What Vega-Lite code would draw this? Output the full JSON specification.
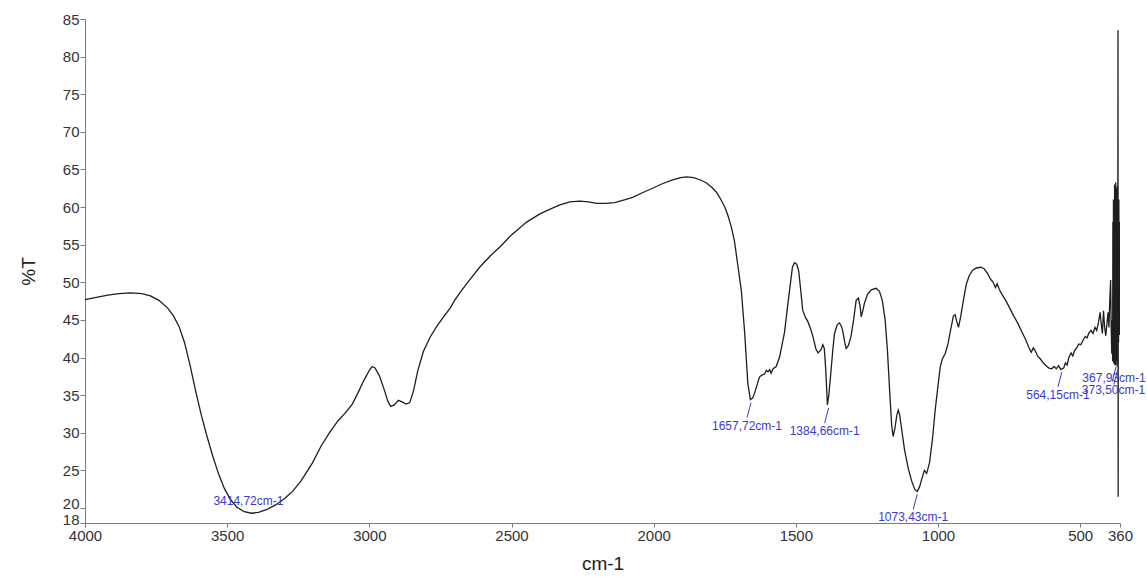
{
  "$schema": "https://vega.github.io/schema/vega-lite/v6.json",
  "autosize": {"type": "none"},
  "padding": {"left": 85, "top": 19, "right": 27, "bottom": 55},
  "width": 1035,
  "height": 504,
  "background": "#ffffff",
  "config": {
    "view": {"stroke": null},
    "font": "Liberation Sans",
    "axis": {
      "grid": false,
      "labelOverlap": false,
      "domainColor": "#7a7a7a",
      "tickColor": "#7a7a7a",
      "labelColor": "#333333",
      "labelFont": "Liberation Sans",
      "labelFontSize": 15,
      "titleFont": "Liberation Sans",
      "titleFontWeight": "normal",
      "titleColor": "#222222",
      "titleFontSize": 19
    }
  },
  "datasets": {
    "spectrum": [
      {"wn": 4000, "T": 47.7}, {"wn": 3960, "T": 48.0}, {"wn": 3920, "T": 48.3}, {"wn": 3880, "T": 48.5},
      {"wn": 3840, "T": 48.6}, {"wn": 3800, "T": 48.5}, {"wn": 3770, "T": 48.2}, {"wn": 3740, "T": 47.6},
      {"wn": 3710, "T": 46.6}, {"wn": 3690, "T": 45.6}, {"wn": 3670, "T": 44.2}, {"wn": 3650, "T": 42.0},
      {"wn": 3630, "T": 38.9}, {"wn": 3610, "T": 35.4}, {"wn": 3590, "T": 32.2}, {"wn": 3570, "T": 29.4},
      {"wn": 3550, "T": 26.8}, {"wn": 3530, "T": 24.5}, {"wn": 3510, "T": 22.6}, {"wn": 3490, "T": 21.2},
      {"wn": 3466, "T": 20.1}, {"wn": 3440, "T": 19.5}, {"wn": 3414, "T": 19.3}, {"wn": 3390, "T": 19.4},
      {"wn": 3360, "T": 19.8}, {"wn": 3330, "T": 20.4}, {"wn": 3300, "T": 21.2}, {"wn": 3270, "T": 22.2},
      {"wn": 3240, "T": 23.6}, {"wn": 3200, "T": 26.0}, {"wn": 3170, "T": 28.2}, {"wn": 3140, "T": 30.0},
      {"wn": 3110, "T": 31.6}, {"wn": 3085, "T": 32.6}, {"wn": 3060, "T": 33.8}, {"wn": 3040, "T": 35.3},
      {"wn": 3020, "T": 36.9}, {"wn": 3000, "T": 38.3}, {"wn": 2990, "T": 38.8}, {"wn": 2980, "T": 38.6},
      {"wn": 2965, "T": 37.6}, {"wn": 2950, "T": 36.0}, {"wn": 2935, "T": 34.2}, {"wn": 2925, "T": 33.5},
      {"wn": 2912, "T": 33.7}, {"wn": 2898, "T": 34.3}, {"wn": 2885, "T": 34.1}, {"wn": 2870, "T": 33.8},
      {"wn": 2858, "T": 34.0}, {"wn": 2845, "T": 35.5}, {"wn": 2830, "T": 38.2}, {"wn": 2810, "T": 40.8},
      {"wn": 2785, "T": 42.8}, {"wn": 2760, "T": 44.3}, {"wn": 2735, "T": 45.6}, {"wn": 2715, "T": 46.6},
      {"wn": 2700, "T": 47.6}, {"wn": 2680, "T": 48.7}, {"wn": 2650, "T": 50.2}, {"wn": 2612, "T": 52.0},
      {"wn": 2575, "T": 53.5}, {"wn": 2541, "T": 54.7}, {"wn": 2500, "T": 56.3}, {"wn": 2447, "T": 58.0},
      {"wn": 2400, "T": 59.1}, {"wn": 2366, "T": 59.7}, {"wn": 2330, "T": 60.3}, {"wn": 2295, "T": 60.7},
      {"wn": 2260, "T": 60.8}, {"wn": 2230, "T": 60.7}, {"wn": 2200, "T": 60.5}, {"wn": 2170, "T": 60.5},
      {"wn": 2137, "T": 60.6}, {"wn": 2100, "T": 61.0}, {"wn": 2074, "T": 61.3}, {"wn": 2040, "T": 61.9},
      {"wn": 2004, "T": 62.5}, {"wn": 1970, "T": 63.1}, {"wn": 1933, "T": 63.6}, {"wn": 1905, "T": 63.9},
      {"wn": 1884, "T": 64.0}, {"wn": 1860, "T": 63.9}, {"wn": 1835, "T": 63.6}, {"wn": 1814, "T": 63.2},
      {"wn": 1795, "T": 62.6}, {"wn": 1780, "T": 62.0}, {"wn": 1768, "T": 61.3}, {"wn": 1750, "T": 60.0},
      {"wn": 1740, "T": 59.0}, {"wn": 1728, "T": 57.5}, {"wn": 1716, "T": 55.5}, {"wn": 1705, "T": 52.5},
      {"wn": 1692, "T": 49.0}, {"wn": 1680, "T": 43.3}, {"wn": 1669, "T": 36.6}, {"wn": 1660, "T": 34.4},
      {"wn": 1652, "T": 34.6}, {"wn": 1645, "T": 35.3}, {"wn": 1628, "T": 37.4}, {"wn": 1618, "T": 37.7},
      {"wn": 1610, "T": 37.8}, {"wn": 1604, "T": 38.3}, {"wn": 1598, "T": 38.1}, {"wn": 1592, "T": 38.4},
      {"wn": 1587, "T": 37.9}, {"wn": 1580, "T": 38.5}, {"wn": 1569, "T": 38.8}, {"wn": 1557, "T": 40.1},
      {"wn": 1540, "T": 43.3}, {"wn": 1530, "T": 46.5}, {"wn": 1522, "T": 49.0}, {"wn": 1512, "T": 52.0},
      {"wn": 1505, "T": 52.6}, {"wn": 1497, "T": 52.4}, {"wn": 1490, "T": 51.5}, {"wn": 1483, "T": 49.0},
      {"wn": 1476, "T": 46.3}, {"wn": 1466, "T": 45.3}, {"wn": 1458, "T": 44.8}, {"wn": 1448, "T": 43.8},
      {"wn": 1440, "T": 42.8}, {"wn": 1430, "T": 41.2}, {"wn": 1422, "T": 40.6}, {"wn": 1412, "T": 41.0},
      {"wn": 1405, "T": 41.7}, {"wn": 1400, "T": 41.2}, {"wn": 1395, "T": 38.5}, {"wn": 1389, "T": 33.7},
      {"wn": 1384, "T": 35.0}, {"wn": 1378, "T": 37.5}, {"wn": 1370, "T": 41.0}, {"wn": 1364, "T": 43.2},
      {"wn": 1355, "T": 44.3}, {"wn": 1347, "T": 44.6}, {"wn": 1340, "T": 44.2}, {"wn": 1335, "T": 43.5},
      {"wn": 1328, "T": 42.0}, {"wn": 1323, "T": 41.2}, {"wn": 1315, "T": 41.6}, {"wn": 1306, "T": 42.8},
      {"wn": 1297, "T": 45.0}, {"wn": 1288, "T": 47.6}, {"wn": 1280, "T": 47.9}, {"wn": 1274, "T": 46.8},
      {"wn": 1270, "T": 45.4}, {"wn": 1264, "T": 46.3}, {"wn": 1259, "T": 47.2}, {"wn": 1248, "T": 48.4},
      {"wn": 1235, "T": 49.0}, {"wn": 1218, "T": 49.2}, {"wn": 1206, "T": 48.8}, {"wn": 1196, "T": 47.6},
      {"wn": 1186, "T": 45.0}, {"wn": 1178, "T": 41.0}, {"wn": 1170, "T": 35.5}, {"wn": 1163, "T": 31.0},
      {"wn": 1158, "T": 29.5}, {"wn": 1152, "T": 30.5}, {"wn": 1145, "T": 32.3}, {"wn": 1140, "T": 33.0},
      {"wn": 1135, "T": 32.4}, {"wn": 1128, "T": 30.5}, {"wn": 1118, "T": 27.8}, {"wn": 1105, "T": 25.3},
      {"wn": 1092, "T": 23.5}, {"wn": 1082, "T": 22.5}, {"wn": 1073, "T": 22.2}, {"wn": 1065, "T": 22.8},
      {"wn": 1056, "T": 24.0}, {"wn": 1048, "T": 25.0}, {"wn": 1040, "T": 24.6}, {"wn": 1030, "T": 26.0},
      {"wn": 1020, "T": 29.0}, {"wn": 1010, "T": 33.0}, {"wn": 1000, "T": 36.3}, {"wn": 992, "T": 38.8},
      {"wn": 985, "T": 39.8}, {"wn": 975, "T": 40.5}, {"wn": 965, "T": 41.8}, {"wn": 955, "T": 43.8},
      {"wn": 946, "T": 45.5}, {"wn": 940, "T": 45.7}, {"wn": 934, "T": 44.8}, {"wn": 928, "T": 44.0},
      {"wn": 920, "T": 45.5}, {"wn": 910, "T": 47.8}, {"wn": 900, "T": 49.8}, {"wn": 890, "T": 50.9},
      {"wn": 878, "T": 51.6}, {"wn": 865, "T": 51.9}, {"wn": 850, "T": 52.0}, {"wn": 838, "T": 51.8},
      {"wn": 826, "T": 51.2}, {"wn": 815, "T": 50.4}, {"wn": 806, "T": 50.0}, {"wn": 798, "T": 49.3},
      {"wn": 792, "T": 49.8}, {"wn": 784, "T": 49.0}, {"wn": 775, "T": 48.4}, {"wn": 762, "T": 47.6},
      {"wn": 748, "T": 46.6}, {"wn": 735, "T": 45.6}, {"wn": 720, "T": 44.6}, {"wn": 705, "T": 43.4},
      {"wn": 692, "T": 42.4}, {"wn": 680, "T": 41.3}, {"wn": 672, "T": 40.7}, {"wn": 665, "T": 41.3},
      {"wn": 658, "T": 40.9}, {"wn": 650, "T": 40.2}, {"wn": 640, "T": 39.8}, {"wn": 630, "T": 39.3},
      {"wn": 620, "T": 38.9}, {"wn": 610, "T": 38.6}, {"wn": 600, "T": 38.5}, {"wn": 592, "T": 38.8},
      {"wn": 584, "T": 38.5}, {"wn": 576, "T": 38.9}, {"wn": 568, "T": 38.4}, {"wn": 564, "T": 38.5},
      {"wn": 558, "T": 38.6}, {"wn": 552, "T": 39.3}, {"wn": 546, "T": 39.0}, {"wn": 540, "T": 40.0},
      {"wn": 532, "T": 40.6}, {"wn": 526, "T": 40.2}, {"wn": 520, "T": 40.9}, {"wn": 512, "T": 41.3},
      {"wn": 505, "T": 41.8}, {"wn": 498, "T": 41.7}, {"wn": 490, "T": 42.3}, {"wn": 482, "T": 42.8},
      {"wn": 476, "T": 42.6}, {"wn": 470, "T": 43.2}, {"wn": 462, "T": 43.6}, {"wn": 455, "T": 43.2},
      {"wn": 448, "T": 44.0}, {"wn": 442, "T": 43.6}, {"wn": 436, "T": 44.6}, {"wn": 430, "T": 46.0},
      {"wn": 426, "T": 44.5}, {"wn": 422, "T": 43.2}, {"wn": 418, "T": 46.2}, {"wn": 414, "T": 44.0},
      {"wn": 410, "T": 42.9}, {"wn": 406, "T": 44.5}, {"wn": 402, "T": 46.0}, {"wn": 399, "T": 44.0},
      {"wn": 396, "T": 47.5}, {"wn": 393, "T": 50.3}, {"wn": 391, "T": 44.0}, {"wn": 389, "T": 40.5},
      {"wn": 387, "T": 45.0}, {"wn": 386, "T": 39.5}, {"wn": 385, "T": 58.0}, {"wn": 384, "T": 40.2},
      {"wn": 383, "T": 61.0}, {"wn": 382, "T": 39.2}, {"wn": 381, "T": 60.5}, {"wn": 380, "T": 40.0},
      {"wn": 379, "T": 63.0}, {"wn": 378, "T": 39.0}, {"wn": 377, "T": 61.8}, {"wn": 376, "T": 40.4},
      {"wn": 375, "T": 63.3}, {"wn": 374, "T": 38.9}, {"wn": 373.5, "T": 39.2}, {"wn": 373, "T": 62.5},
      {"wn": 372, "T": 39.6}, {"wn": 371, "T": 60.2}, {"wn": 370, "T": 40.1}, {"wn": 369, "T": 62.8},
      {"wn": 368, "T": 38.8}, {"wn": 367, "T": 83.5}, {"wn": 366.5, "T": 21.5}, {"wn": 366, "T": 60.0},
      {"wn": 365, "T": 42.0}, {"wn": 364, "T": 61.0}, {"wn": 363, "T": 45.0}, {"wn": 362, "T": 58.0},
      {"wn": 361, "T": 43.0}, {"wn": 360, "T": 50.0}
    ],
    "peaks": [
      {"wn": 3414.72, "T": 19.3, "label": "3414,72cm-1", "place": "above"},
      {"wn": 1657.72, "T": 34.4, "label": "1657,72cm-1", "place": "below"},
      {"wn": 1384.66, "T": 33.7, "label": "1384,66cm-1", "place": "below"},
      {"wn": 1073.43, "T": 22.2, "label": "1073,43cm-1", "place": "below"},
      {"wn": 564.15, "T": 38.5, "label": "564,15cm-1", "place": "below"},
      {"wn": 367.93, "T": 38.8, "label": "367,93cm-1", "place": "edge-upper"},
      {"wn": 373.5, "T": 39.2, "label": "373,50cm-1", "place": "edge-lower"}
    ]
  },
  "encoding": {
    "x": {
      "field": "wn", "type": "quantitative",
      "scale": {"domain": [4000, 360], "nice": false, "zero": false},
      "axis": {
        "title": "cm-1", "format": "d", "values": [4000, 3500, 3000, 2500, 2000, 1500, 1000, 500, 360],
        "tickSize": 4, "labelPadding": 1, "titlePadding": 11, "labelFlush": false
      }
    },
    "y": {
      "field": "T", "type": "quantitative",
      "scale": {"domain": [18, 85], "nice": false, "zero": false},
      "axis": {
        "title": "%T", "format": "d", "values": [18, 20, 25, 30, 35, 40, 45, 50, 55, 60, 65, 70, 75, 80, 85],
        "tickSize": 5, "labelPadding": 1, "titlePadding": 24, "labelFlush": false,
        "labelOffset": {"condition": {"test": "datum.value <= 20", "value": -4}, "value": 0}
      }
    }
  },
  "layer": [
    {
      "data": {"name": "spectrum"},
      "mark": {"type": "line", "color": "#1e1e1e", "strokeWidth": 1.3, "clip": true, "interpolate": "linear"}
    },
    {
      "data": {"name": "peaks"},
      "transform": [{"filter": "datum.place !== 'above'"}],
      "mark": {"type": "rule", "color": "#3a3ad0", "strokeWidth": 1, "yOffset": 3, "y2Offset": 18, "x2Offset": -4},
      "encoding": {"x2": {"field": "wn"}, "y2": {"field": "T"}}
    },
    {
      "data": {"name": "peaks"},
      "transform": [{"filter": "datum.place === 'below'"}],
      "mark": {"type": "text", "color": "#3a3ad0", "fontSize": 12, "align": "center", "baseline": "top", "dx": -4, "dy": 21},
      "encoding": {"text": {"field": "label"}}
    },
    {
      "data": {"name": "peaks"},
      "transform": [{"filter": "datum.place === 'above'"}],
      "mark": {"type": "text", "color": "#3a3ad0", "fontSize": 12, "align": "center", "baseline": "middle", "dx": -3, "dy": -12},
      "encoding": {"text": {"field": "label"}}
    },
    {
      "data": {"name": "peaks"},
      "transform": [{"filter": "datum.place === 'edge-upper'"}],
      "mark": {"type": "text", "color": "#3a3ad0", "fontSize": 12, "align": "right", "baseline": "top", "dx": 28, "dy": 6},
      "encoding": {"text": {"field": "label"}}
    },
    {
      "data": {"name": "peaks"},
      "transform": [{"filter": "datum.place === 'edge-lower'"}],
      "mark": {"type": "text", "color": "#3a3ad0", "fontSize": 12, "align": "right", "baseline": "top", "dx": 29, "dy": 21},
      "encoding": {"text": {"field": "label"}}
    }
  ]
}
